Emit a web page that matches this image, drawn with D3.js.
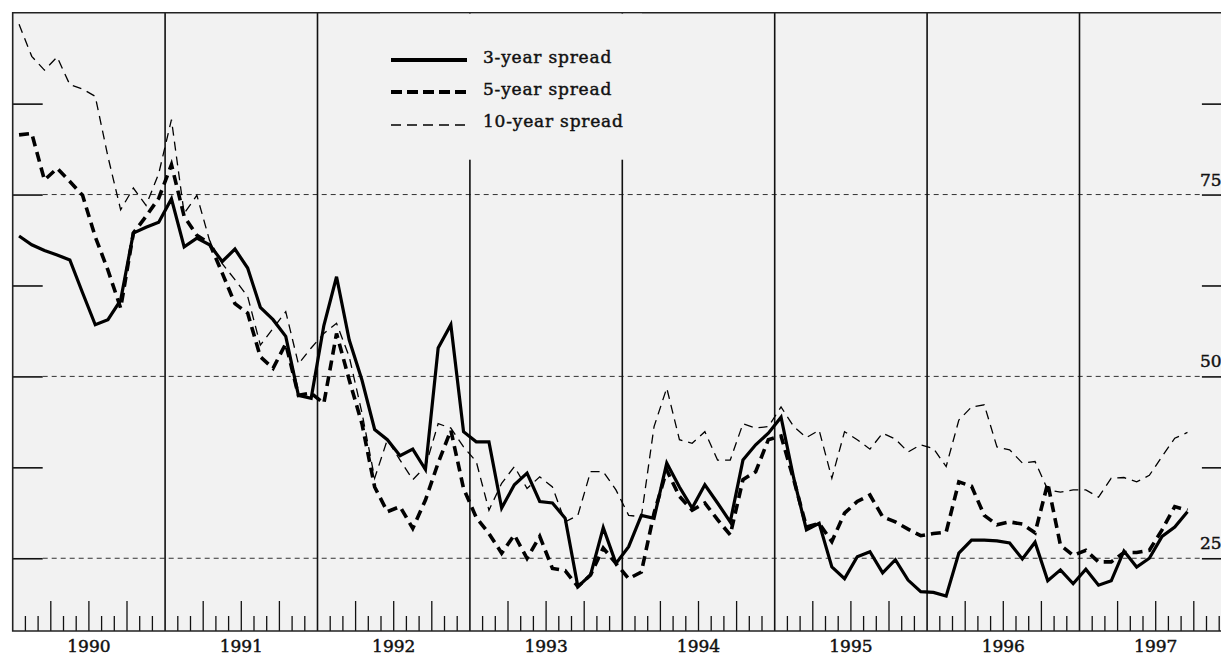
<!DOCTYPE html>
<html>
<head>
<meta charset="utf-8">
<script src="https://d3js.org/d3.v7.min.js"></script>
<style>
  body { margin: 0; background: #ffffff; }
  svg { display: block; font-family: "DejaVu Serif", serif; }
  .lbl { fill: #111; stroke: #111; stroke-width: 0.45px; }
</style>
</head>
<body>
<svg id="drawing_region"></svg>
<script>
// monthly values, Jan 1990 .. Sep 1997
const years = [1990, 1991, 1992, 1993, 1994, 1995, 1996, 1997];
const spread3 = [
  69.3, 68.1, 67.3, 66.7, 66.0, 61.5, 57.1, 57.8, 60.5, 69.7, 70.5, 71.2,
  74.4, 67.8, 69.0, 68.1, 65.8, 67.5, 64.9, 59.5, 57.8, 55.5, 47.4, 47.0,
  57.0, 63.7, 55.0, 49.5, 42.7, 41.3, 39.1, 40.0, 37.2, 53.9, 57.1, 42.4,
  41.0, 41.0, 31.9, 35.1, 36.7, 32.8, 32.6, 30.5, 21.1, 22.7, 29.2, 24.3,
  26.6, 30.9, 30.5, 38.1, 34.8, 31.9, 35.1, 32.6, 30.0, 38.5, 40.6, 42.2,
  44.4, 36.0, 28.9, 29.8, 23.8, 22.2, 25.2, 25.9, 23.0, 24.8, 22.0, 20.4,
  20.3, 19.8, 25.7, 27.5, 27.5, 27.4, 27.1, 24.9, 27.2, 21.9, 23.4, 21.5,
  23.5, 21.3, 21.9, 26.0, 23.8, 25.0, 28.0, 29.3, 31.4
];
const spread5 = [
  83.2, 83.4, 77.0, 78.6, 76.8, 74.9, 69.2, 64.6, 59.4, 69.7, 72.0, 74.5,
  79.1, 72.0, 69.4, 68.3, 64.2, 60.0, 58.7, 52.7, 51.1, 54.5, 47.4, 47.7,
  46.3, 55.9, 49.5, 43.5, 34.8, 31.4, 32.1, 29.1, 33.0, 38.1, 42.6, 34.6,
  30.6, 28.4, 25.7, 28.2, 25.0, 28.0, 23.6, 23.3, 21.1, 22.7, 26.4, 24.3,
  22.2, 23.1, 31.2, 37.1, 33.5, 31.6, 32.6, 30.3, 28.2, 35.8, 36.9, 41.3,
  41.8, 35.8, 29.3, 29.8, 27.3, 31.2, 32.8, 33.7, 30.7, 30.0, 29.0, 28.1,
  28.4, 28.6, 35.5, 34.9, 30.9, 29.6, 30.0, 29.7, 28.5, 35.3, 26.8, 25.4,
  26.1, 24.5, 24.5, 25.8, 25.8, 26.1, 28.9, 32.1, 31.6
];
const spread10 = [
  98.4, 94.0, 92.1, 93.9, 90.1, 89.5, 88.5, 80.2, 72.9, 75.9, 73.5, 77.9,
  85.3, 72.4, 74.9, 68.7, 65.5, 63.3, 61.0, 54.3, 56.6, 58.9, 51.7, 53.9,
  55.9, 57.3, 52.7, 45.0, 36.0, 41.3, 38.5, 35.8, 37.6, 43.5, 42.9, 40.3,
  38.3, 31.6, 35.3, 37.6, 34.6, 36.2, 34.8, 30.0, 30.9, 36.9, 36.9, 34.4,
  30.9, 30.7, 43.1, 48.4, 41.3, 40.8, 42.4, 38.5, 38.5, 43.5, 42.9, 43.1,
  45.8, 43.1, 41.6, 42.6, 36.0, 42.4, 41.3, 40.0, 42.2, 41.4, 39.6, 40.6,
  40.1, 37.6, 44.0, 45.8, 46.1, 40.3, 39.9, 38.1, 38.3, 34.4, 34.1, 34.4,
  34.4, 33.4, 36.0, 36.1, 35.5, 36.4, 39.0, 41.5, 42.3
];
const yTicks = [25, 37.5, 50, 62.5, 75, 87.5];
const yLabels = [25, 50, 75];
const seriesNames = ["3-year spread", "5-year spread", "10-year spread"];

class SpreadChart {
  constructor(config) {
    this.config = config;
    this.init();
  }

  init() {
    let self = this;
    self.svg = d3.select(self.config.parent)
      .attr('width', self.config.width)
      .attr('height', self.config.height);

    self.left = 12.7;
    self.top = 12.7;
    self.bottom = 631;
    self.right = self.left + years.length * 152.4;

    self.xscale = d3.scaleLinear()
      .domain([0, years.length * 12])
      .range([self.left, self.right]);
    self.yscale = d3.scaleLinear()
      .domain([15, 100])
      .range([self.bottom, self.top]);
  }

  render() {
    let self = this;
    const x = self.xscale, y = self.yscale;

    self.svg.append('rect')
      .attr('x', self.left).attr('y', self.top)
      .attr('width', self.right - self.left)
      .attr('height', self.bottom - self.top)
      .attr('fill', '#f2f2f2');

    // dashed grid
    self.svg.append('g').selectAll('line')
      .data(yLabels).join('line')
      .attr('x1', self.left + 30).attr('x2', self.right - 30)
      .attr('y1', d => y(d)).attr('y2', d => y(d))
      .attr('stroke', '#333').attr('stroke-width', 1)
      .attr('stroke-dasharray', '5,4');

    // ticks on both sides
    const yaxisL = d3.axisRight(y).tickValues(yTicks).tickSize(30).tickFormat('');
    const yaxisR = d3.axisLeft(y).tickValues(yTicks).tickSize(30).tickFormat('');
    [[yaxisL, self.left], [yaxisR, self.right]].forEach(([ax, pos]) => {
      const g = self.svg.append('g')
        .attr('transform', `translate(${pos},0)`)
        .call(ax);
      g.select('.domain').remove();
      g.selectAll('.tick line').attr('stroke', '#111').attr('stroke-width', 1.6);
    });

    self.svg.append('g').selectAll('text')
      .data(yLabels).join('text')
      .attr('class', 'lbl')
      .attr('x', self.right - 32)
      .attr('y', d => y(d) - 9)
      .attr('font-size', '17px')
      .text(d => d);

    // month ticks
    const months = d3.range(1, years.length * 12).filter(m => m % 12 !== 0);
    self.svg.append('g').selectAll('line')
      .data(months).join('line')
      .attr('x1', d => x(d)).attr('x2', d => x(d))
      .attr('y1', self.bottom)
      .attr('y2', d => self.bottom - (d % 3 === 0 ? 30 : 15))
      .attr('stroke', '#111').attr('stroke-width', 1.3);

    // year lines
    self.svg.append('g').selectAll('line')
      .data(years.slice(1)).join('line')
      .attr('x1', (d, i) => x((i + 1) * 12)).attr('x2', (d, i) => x((i + 1) * 12))
      .attr('y1', self.top).attr('y2', self.bottom)
      .attr('stroke', '#111').attr('stroke-width', 1.6);

    self.svg.append('g').selectAll('text')
      .data(years).join('text')
      .attr('class', 'lbl')
      .attr('x', (d, i) => x(i * 12 + 6))
      .attr('y', 652)
      .attr('text-anchor', 'middle')
      .attr('font-size', '17px')
      .text(d => d);

    // frame
    self.svg.append('path')
      .attr('d', `M${self.right},${self.top}H${self.left}V${self.bottom}H${self.right}`)
      .attr('fill', 'none').attr('stroke', '#222').attr('stroke-width', 1.6);

    // legend background hides the year lines behind it
    self.svg.append('rect')
      .attr('x', 380).attr('y', self.top + 1)
      .attr('width', 262).attr('height', 146)
      .attr('fill', '#f2f2f2');

    const line = d3.line()
      .x((d, i) => x(i + 0.5))
      .y(d => y(d));

    const styles = [
      { width: 3.2, dash: null },
      { width: 3.6, dash: '10,6' },
      { width: 1.3, dash: '9,6' }
    ];
    const series = [spread3, spread5, spread10];

    series.forEach((s, k) => {
      self.svg.append('path')
        .attr('d', line(s))
        .attr('fill', 'none')
        .attr('stroke', '#000')
        .attr('stroke-width', styles[k].width)
        .attr('stroke-dasharray', styles[k].dash)
        .attr('stroke-linejoin', 'miter');
    });

    const legendY = [60, 92, 125];
    const lg = self.svg.append('g');
    seriesNames.forEach((name, k) => {
      lg.append('line')
        .attr('x1', 391).attr('x2', 467)
        .attr('y1', legendY[k]).attr('y2', legendY[k])
        .attr('stroke', '#000')
        .attr('stroke-width', k === 0 ? 4 : (k === 1 ? 4.2 : 1.5))
        .attr('stroke-dasharray', k === 0 ? null : (k === 1 ? '11,5' : '10,6'));
      lg.append('text')
        .attr('class', 'lbl')
        .attr('x', 483)
        .attr('y', legendY[k] + (k === 2 ? 2 : 3))
        .attr('font-size', '17px')
        .attr('letter-spacing', '0.8px')
        .text(name);
    });
  }
}

const chart = new SpreadChart({ parent: '#drawing_region', width: 1221, height: 655 });
chart.render();
</script>
</body>
</html>
